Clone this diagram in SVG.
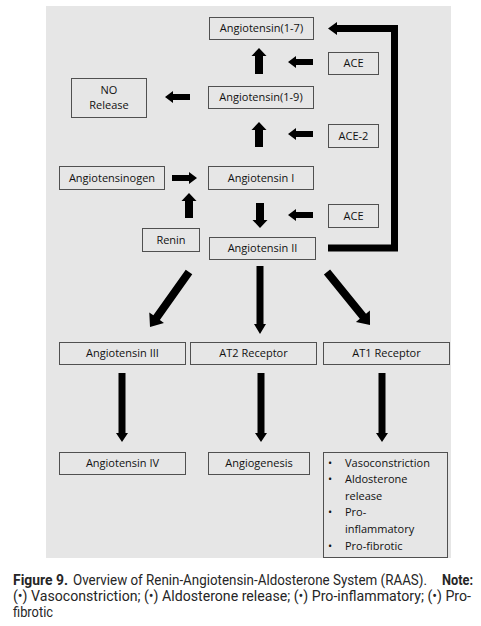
<svg xmlns="http://www.w3.org/2000/svg" width="481" height="626" viewBox="0 0 481 626">
<style>
.box{fill:#e6e6e6;stroke:#505050;stroke-width:1}
.t{font-family:"Open Sans",Lato,sans-serif;font-size:11px;fill:#111;text-anchor:middle}
.tl{font-family:"Open Sans",Lato,sans-serif;font-size:11px;fill:#111}
.ar{fill:#000}
.cap{font-family:Roboto,"Liberation Sans",sans-serif;font-size:14px;fill:#262626}
.capb{font-family:Roboto,"Liberation Sans",sans-serif;font-size:14px;fill:#262626;font-weight:bold}
</style>
<rect x="0" y="0" width="481" height="626" fill="#ffffff"/>
<rect x="46" y="6" width="405" height="552" fill="#e6e6e6"/>

<g id="ang17"><rect class="box" x="209.5" y="17.5" width="104" height="22"/><text class="t" x="261.5" y="32">Angiotensin(1-7)</text></g>
<g id="ace1"><rect class="box" x="328.5" y="52.5" width="50" height="22"/><text class="t" x="353.5" y="67">ACE</text></g>
<g id="norelease"><rect class="box" x="71.5" y="78.5" width="75" height="39"/><text class="t" x="109" y="94">NO</text><text class="t" x="109" y="109">Release</text></g>
<g id="ang19"><rect class="box" x="208.5" y="86.5" width="105" height="22"/><text class="t" x="261" y="101">Angiotensin(1-9)</text></g>
<g id="ace2"><rect class="box" x="328.5" y="124.5" width="50" height="23"/><text class="t" x="353.5" y="140">ACE-2</text></g>
<g id="angiotensinogen"><rect class="box" x="59.5" y="166.5" width="105" height="23"/><text class="t" x="112" y="182">Angiotensinogen</text></g>
<g id="ang1"><rect class="box" x="208.5" y="166.5" width="105" height="23"/><text class="t" x="261" y="182">Angiotensin I</text></g>
<g id="ace3"><rect class="box" x="328.5" y="204.5" width="50" height="23"/><text class="t" x="353.5" y="220">ACE</text></g>
<g id="renin"><rect class="box" x="142.5" y="228.5" width="57" height="23"/><text class="t" x="171" y="244">Renin</text></g>
<g id="ang2"><rect class="box" x="209.5" y="237.5" width="106" height="22"/><text class="t" x="262.5" y="252">Angiotensin II</text></g>
<g id="ang3"><rect class="box" x="59.5" y="342.5" width="126" height="22"/><text class="t" x="122.5" y="357">Angiotensin III</text></g>
<g id="at2"><rect class="box" x="190.5" y="342.5" width="126" height="22"/><text class="t" x="253.5" y="357">AT2 Receptor</text></g>
<g id="at1"><rect class="box" x="323.5" y="342.5" width="126" height="22"/><text class="t" x="386.5" y="357">AT1 Receptor</text></g>
<g id="ang4"><rect class="box" x="59.5" y="452.5" width="126" height="22"/><text class="t" x="122.5" y="467">Angiotensin IV</text></g>
<g id="angiogenesis"><rect class="box" x="208.5" y="452.5" width="101" height="22"/><text class="t" x="259" y="467">Angiogenesis</text></g>
<g id="effects"><rect class="box" x="323.5" y="452.5" width="124" height="105"/>
<text class="tl" x="328" y="467">•</text><text class="tl" x="345" y="467">Vasoconstriction</text>
<text class="tl" x="328" y="483">•</text><text class="tl" x="345" y="483">Aldosterone</text>
<text class="tl" x="345" y="500">release</text>
<text class="tl" x="328" y="516">•</text><text class="tl" x="345" y="516">Pro-</text>
<text class="tl" x="345" y="533">inflammatory</text>
<text class="tl" x="328" y="550">•</text><text class="tl" x="345" y="550">Pro-fibrotic</text>
</g>

<g id="connectors" class="ar">
<polygon points="259,48 266.5,56 263,56 263,74 255,74 255,56 251.5,56"/>
<polygon points="259,122 266.5,130 263,130 263,147 255,147 255,130 251.5,130"/>
<polygon points="189,193 196.5,201 193,201 193,218 185,218 185,201 181.5,201"/>
<polygon points="260,228 267.5,220 264,220 264,203 256,203 256,220 252.5,220"/>
<polygon points="288,62 296,56 296,59 313,59 313,65 296,65 296,68"/>
<polygon points="288,134 296,128 296,131 313,131 313,137 296,137 296,140"/>
<polygon points="288,215 296,209 296,212 313,212 313,218 296,218 296,221"/>
<polygon points="165,97 173,91 173,94 190,94 190,100 173,100 173,103"/>
<polygon points="197,178 189,172 189,175 172,175 172,181 189,181 189,184"/>
<polygon points="328,248.5 328,244.5 391,244.5 391,32 337,32 337,35 328,28.5 337,22 337,25 398,25 398,251.5 328,251.5"/>
<polygon transform="translate(189,272) rotate(125.34)" points="0,-4 56,-4 56,-9 67.4,0 56,9 56,4 0,4"/>
<polygon transform="translate(327,272) rotate(50.94)" points="0,-4 57,-4 57,-9 68.3,0 57,9 57,4 0,4"/>
<polygon points="260,334 266,324 263.5,324 263.5,266 256.5,266 256.5,324 254,324"/>
<polygon points="122,442 128,433 125.5,433 125.5,373 118.5,373 118.5,433 116,433"/>
<polygon points="261,442 267,433 264.5,433 264.5,373 257.5,373 257.5,433 255,433"/>
<polygon points="382,442 388,433 385.5,433 385.5,373 378.5,373 378.5,433 376,433"/>
</g>

<g id="caption">
<text class="capb" x="13" y="585" textLength="55" lengthAdjust="spacingAndGlyphs">Figure 9.</text>
<text class="cap" x="73" y="585" textLength="354" lengthAdjust="spacingAndGlyphs">Overview of Renin-Angiotensin-Aldosterone System (RAAS).</text>
<text class="capb" x="442" y="585" textLength="31" lengthAdjust="spacingAndGlyphs">Note:</text>
<text class="cap" x="13" y="601" textLength="458" lengthAdjust="spacingAndGlyphs">(•) Vasoconstriction; (•) Aldosterone release; (•) Pro-inflammatory; (•) Pro-</text>
<text class="cap" x="13" y="617" textLength="40" lengthAdjust="spacingAndGlyphs">fibrotic</text>
</g>
</svg>
